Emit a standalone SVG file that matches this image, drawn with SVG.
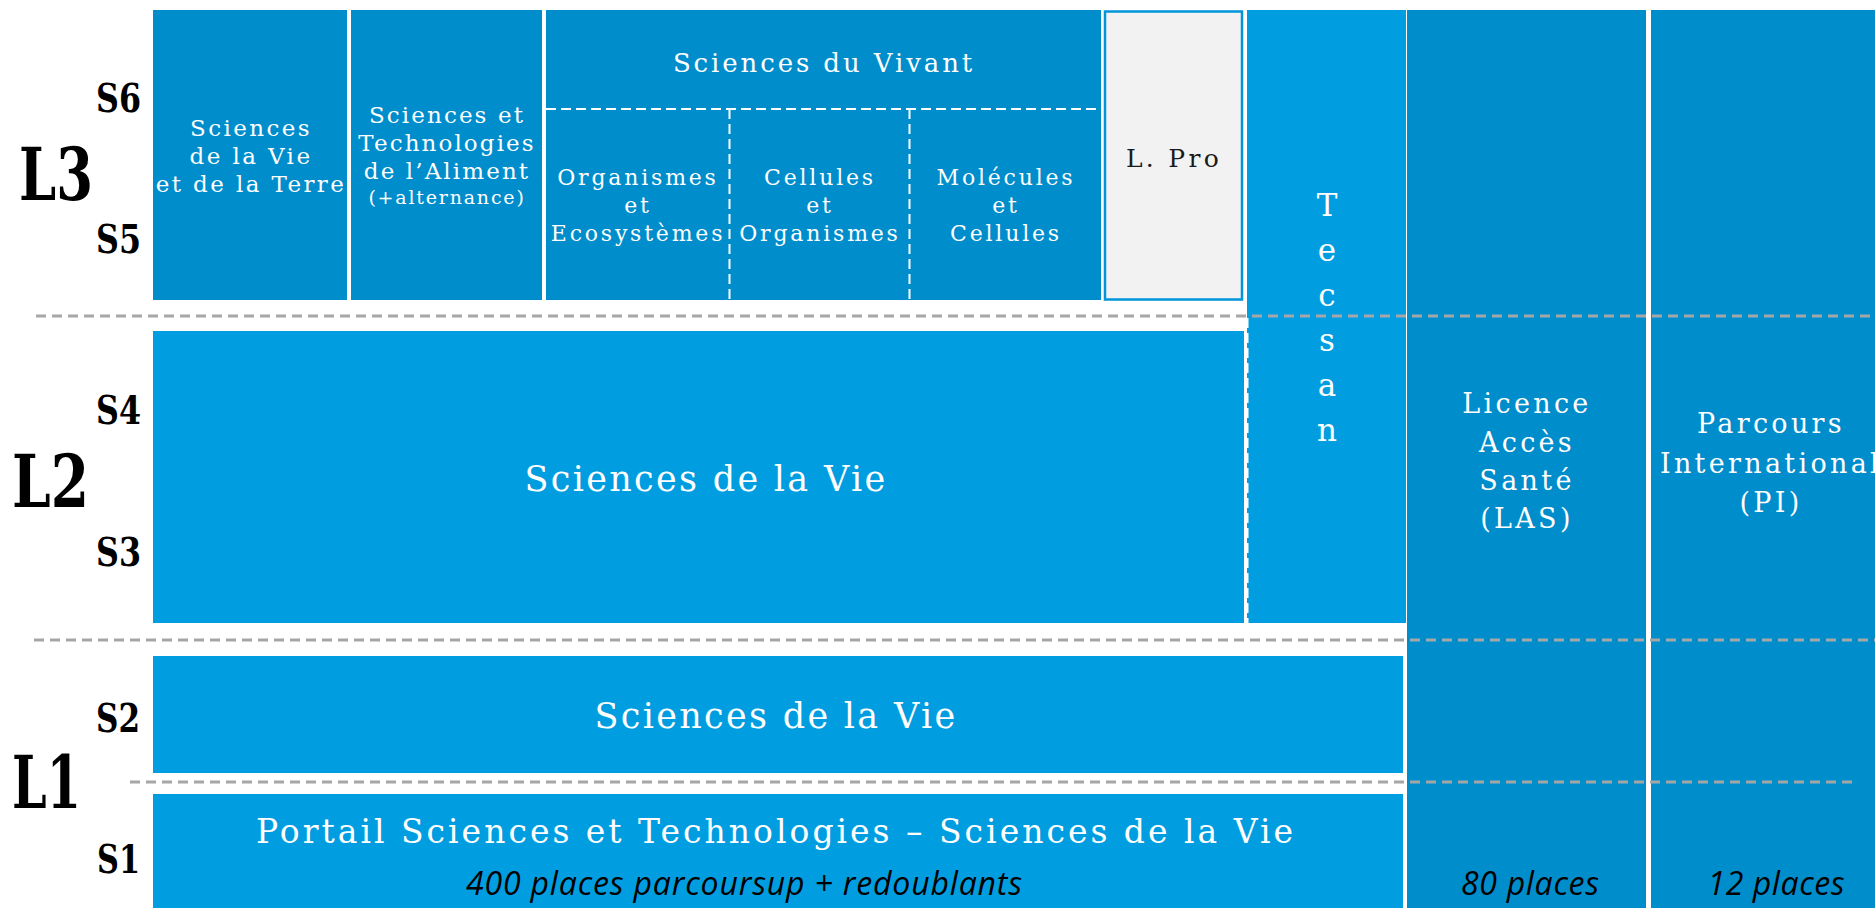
<svg xmlns="http://www.w3.org/2000/svg" width="1875" height="908" viewBox="0 0 1875 908">
<defs>
<style>
.dark{fill:#008DCC;}
.light{fill:#009EE0;}
.bt{font-family:"DejaVu Serif",serif;fill:#ffffff;text-anchor:middle;}
.lbl{font-family:"DejaVu Serif",serif;fill:#000000;font-weight:bold;}
.sem{font-size:40px;text-anchor:end;}
.lvl{font-size:72px;}
.it{font-family:"Open Sans","Noto Sans",sans-serif;font-style:italic;fill:#000000;text-anchor:middle;font-size:32px;}
.sep{stroke:#A6A6A6;stroke-width:3;stroke-dasharray:10 6;fill:none;}
.wd{stroke:#ffffff;stroke-width:2;stroke-dasharray:10 5;fill:none;}
</style>
</defs>
<rect width="1875" height="908" fill="#ffffff"/>

<g id="labels">
<text class="lbl lvl" x="19" y="200" textLength="74" lengthAdjust="spacingAndGlyphs">L3</text>
<text class="lbl sem" x="141" y="112" textLength="45" lengthAdjust="spacingAndGlyphs">S6</text>
<text class="lbl sem" x="141" y="253" textLength="45" lengthAdjust="spacingAndGlyphs">S5</text>
<text class="lbl lvl" x="12" y="507" textLength="77" lengthAdjust="spacingAndGlyphs">L2</text>
<text class="lbl sem" x="141" y="424" textLength="45" lengthAdjust="spacingAndGlyphs">S4</text>
<text class="lbl sem" x="141" y="566" textLength="45" lengthAdjust="spacingAndGlyphs">S3</text>
<text class="lbl lvl" x="12" y="808" textLength="69" lengthAdjust="spacingAndGlyphs">L1</text>
<text class="lbl sem" x="140" y="732" textLength="44" lengthAdjust="spacingAndGlyphs">S2</text>
<text class="lbl sem" x="140" y="873" textLength="43" lengthAdjust="spacingAndGlyphs">S1</text>
</g>

<g id="svt">
<rect class="dark" x="153" y="10" width="194" height="290"/>
<g class="bt" font-size="23" letter-spacing="2.4">
<text x="251" y="136">Sciences</text>
<text x="251" y="164">de la Vie</text>
<text x="251" y="192">et de la Terre</text>
</g>
</g>

<g id="sta">
<rect class="dark" x="351" y="10" width="191" height="290"/>
<g class="bt" font-size="23" letter-spacing="2.1">
<text x="447" y="123">Sciences et</text>
<text x="447" y="151">Technologies</text>
<text x="447" y="179">de l’Aliment</text>
<text x="447" y="204" font-size="19" letter-spacing="1.8">(+alternance)</text>
</g>
</g>

<g id="sdv">
<rect class="dark" x="546" y="10" width="555" height="290"/>
<text class="bt" font-size="26" letter-spacing="2.9" x="824" y="72">Sciences du Vivant</text>
<path class="wd" d="M546 109H1101M729.5 109V300M909.5 109V300"/>
<g class="bt" font-size="22" letter-spacing="2.8">
<text x="638" y="185">Organismes</text>
<text x="638" y="213">et</text>
<text x="638" y="241">Ecosystèmes</text>
<text x="820" y="185">Cellules</text>
<text x="820" y="213">et</text>
<text x="820" y="241">Organismes</text>
<text x="1006" y="185">Molécules</text>
<text x="1006" y="213">et</text>
<text x="1006" y="241">Cellules</text>
</g>
</g>

<g id="lpro">
<rect x="1105" y="11.5" width="137" height="288" fill="#F2F2F2" stroke="#0095D9" stroke-width="2.5"/>
<text class="bt" font-size="25" letter-spacing="3.3" x="1174" y="167" style="fill:#1a1a1a">L. Pro</text>
</g>

<g id="tecsan">
<rect class="light" x="1247" y="10" width="159" height="613"/>
<g class="bt" font-size="31">
<text x="1327" y="216">T</text>
<text x="1327" y="261">e</text>
<text x="1327" y="306">c</text>
<text x="1327" y="351">s</text>
<text x="1327" y="396">a</text>
<text x="1327" y="441">n</text>
</g>
<path class="wd" d="M1247.5 318V623"/>
</g>

<g id="las">
<rect class="dark" x="1407" y="10" width="239" height="898"/>
<g class="bt" font-size="27" letter-spacing="3.3">
<text x="1527" y="413">Licence</text>
<text x="1527" y="452">Accès</text>
<text x="1527" y="490">Santé</text>
<text x="1527" y="528">(LAS)</text>
</g>
<text class="it" x="1530" y="895" textLength="138" lengthAdjust="spacing">80 places</text>
</g>

<g id="pi">
<rect class="dark" x="1651" y="10" width="224" height="898"/>
<g class="bt" font-size="27" letter-spacing="3.3">
<text x="1771" y="433">Parcours</text>
<text x="1771" y="473">International</text>
<text x="1771" y="512">(PI)</text>
</g>
<text class="it" x="1776" y="895" textLength="137" lengthAdjust="spacing">12 places</text>
</g>

<g id="l2">
<rect class="light" x="153" y="331" width="1091" height="292"/>
<text class="bt" font-size="35" letter-spacing="2.3" x="706" y="491">Sciences de la Vie</text>
</g>

<g id="s2">
<rect class="light" x="153" y="656" width="1250" height="117"/>
<text class="bt" font-size="35" letter-spacing="2.3" x="776" y="728">Sciences de la Vie</text>
</g>

<g id="s1">
<rect class="light" x="153" y="794" width="1250" height="114"/>
<text class="bt" font-size="33" letter-spacing="3" x="776" y="843">Portail Sciences et Technologies – Sciences de la Vie</text>
<text class="it" x="744" y="895" textLength="556" lengthAdjust="spacing">400 places parcoursup + redoublants</text>
</g>

<g id="connectors">
<path class="sep" d="M36 316H1875"/>
<path class="sep" d="M34 640H1875"/>
<path class="sep" d="M130 782H1856"/>
</g>
</svg>
